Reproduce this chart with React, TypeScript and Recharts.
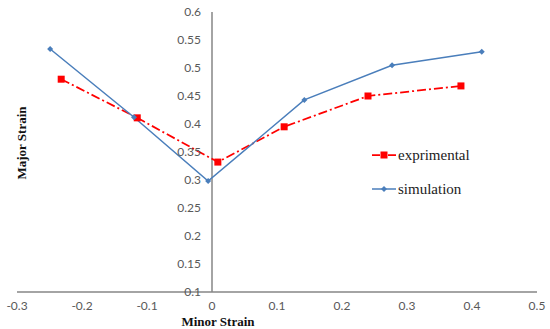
import React from 'react';
import { LineChart, Line, XAxis, YAxis, ReferenceLine, Label } from 'recharts';

// minor / major strain pairs
const minorExp = [-0.232, -0.115, 0.009, 0.111, 0.24, 0.383];
const majorExp = [0.48, 0.411, 0.332, 0.395, 0.45, 0.468];
const minorSim = [-0.249, -0.12, -0.006, 0.142, 0.277, 0.415];
const majorSim = [0.534, 0.412, 0.298, 0.443, 0.505, 0.529];

const xTicks = [-0.3, -0.2, -0.1, 0, 0.1, 0.2, 0.3, 0.4, 0.5];
const yTicks = [0.1, 0.15, 0.2, 0.25, 0.3, 0.35, 0.4, 0.45, 0.5, 0.55, 0.6];

const W = 550;
const H = 329;
const MARGIN = { top: 12, right: 13, left: 16, bottom: 0 };
const Y_AXIS_W = 1;
const X_AXIS_H = 37;
const PLOT_LEFT = MARGIN.left + Y_AXIS_W;
const PLOT_W = W - PLOT_LEFT - MARGIN.right;
const PLOT_BOTTOM = H - X_AXIS_H;
const ZERO_X = PLOT_LEFT + (PLOT_W * (0 - xTicks[0])) / (xTicks[xTicks.length - 1] - xTicks[0]);

const AXIS = '#868686';
const TICK = '#595959';
const RED = '#FF0000';
const BLUE = '#4A7EBB';

const expData = minorExp.map((x, i) => ({ x, y: majorExp[i] }));
const simData = minorSim.map((x, i) => ({ x, y: majorSim[i] }));

const tickFont = { fontFamily: 'Lato, "Liberation Sans", sans-serif', fontSize: 12, fill: TICK };

const XTick = ({ x, payload }: any) => (
  <text x={x} y={PLOT_BOTTOM + 18} textAnchor="middle" {...tickFont}>
    {String(payload.value)}
  </text>
);

const YTick = ({ y, payload }: any) => (
  <text x={ZERO_X - 11} y={y + 4} textAnchor="end" {...tickFont}>
    {String(payload.value)}
  </text>
);

const SquareDot = (p: any) => {
  if (p.cx == null || p.cy == null) return <g key={`e${p.index}`} />;
  return <rect key={`e${p.index}`} x={p.cx - 3.5} y={p.cy - 3.5} width={7} height={7} fill={RED} />;
};

const DiamondDot = (p: any) => {
  if (p.cx == null || p.cy == null) return <g key={`s${p.index}`} />;
  const { cx, cy } = p;
  return <polygon key={`s${p.index}`} points={`${cx},${cy - 3} ${cx + 3},${cy} ${cx},${cy + 3} ${cx - 3},${cy}`} fill={BLUE} />;
};

const LegendBox = () => {
  const row = { display: 'flex', alignItems: 'center', height: 20 } as React.CSSProperties;
  const txt = { fontFamily: '"Liberation Serif", "Times New Roman", serif', fontSize: 15, color: '#222', marginLeft: 2 };
  return (
    <div style={{ position: 'absolute', left: 372, top: 145 }}>
      <div style={row}>
        <svg width={24} height={10}>
          <line x1={0} y1={5} x2={24} y2={5} stroke={RED} strokeWidth={1.75} strokeDasharray="8 3 2 3" />
          <rect x={8.5} y={1.5} width={7} height={7} fill={RED} />
        </svg>
        <span style={txt}>exprimental</span>
      </div>
      <div style={{ ...row, marginTop: 14 }}>
        <svg width={24} height={10}>
          <line x1={0} y1={5} x2={24} y2={5} stroke={BLUE} strokeWidth={1.5} />
          <polygon points="12,2 15,5 12,8 9,5" fill={BLUE} />
        </svg>
        <span style={txt}>simulation</span>
      </div>
    </div>
  );
};

const titleFont = { fontFamily: '"Liberation Serif", "Times New Roman", serif', fontSize: 13, fontWeight: 700, fill: '#111' };

export default function App() {
  return (
    <div style={{ position: 'absolute', left: 0, top: 0, width: W, height: H, background: '#fff' }}>
      <LineChart width={W} height={H} margin={MARGIN}>
        <XAxis
          type="number"
          dataKey="x"
          domain={[xTicks[0], xTicks[xTicks.length - 1]]}
          ticks={xTicks}
          height={X_AXIS_H}
          axisLine={{ stroke: AXIS, strokeWidth: 1.5 }}
          tickLine={false}
          tick={<XTick />}
          allowDataOverflow
        >
          <Label
            content={() => (
              <text x={218} y={326} textAnchor="middle" {...titleFont}>
                Minor Strain
              </text>
            )}
          />
        </XAxis>
        <YAxis
          type="number"
          dataKey="y"
          domain={[yTicks[0], yTicks[yTicks.length - 1]]}
          ticks={yTicks}
          width={Y_AXIS_W}
          axisLine={false}
          tickLine={false}
          tick={<YTick />}
          interval={0}
          allowDataOverflow
        >
          <Label
            content={() => (
              <text x={26} y={143} textAnchor="middle" transform="rotate(-90 26 143)" {...titleFont}>
                Major Strain
              </text>
            )}
          />
        </YAxis>
        <ReferenceLine x={0} stroke={AXIS} strokeWidth={1.5} />
        <Line
          data={expData}
          dataKey="y"
          stroke={RED}
          strokeWidth={1.75}
          strokeDasharray="9 3 2 3"
          dot={SquareDot}
          activeDot={false}
          isAnimationActive={false}
        />
        <Line
          data={simData}
          dataKey="y"
          stroke={BLUE}
          strokeWidth={1.5}
          dot={DiamondDot}
          activeDot={false}
          isAnimationActive={false}
        />
      </LineChart>
      <LegendBox />
    </div>
  );
}
